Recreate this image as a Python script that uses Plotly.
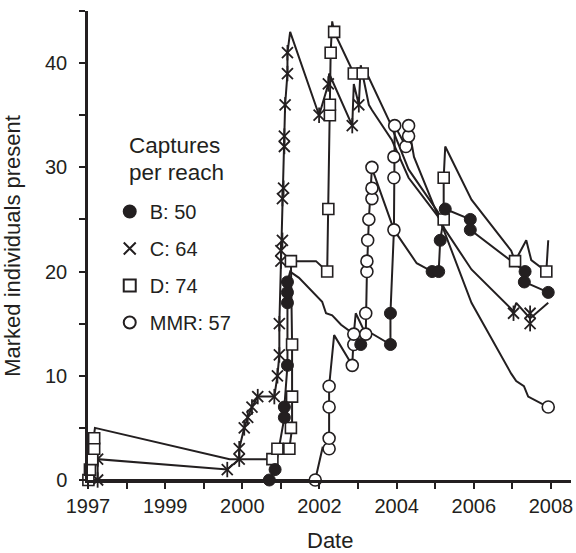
import plotly.graph_objects as go

INK = "#231f20"
FONT = "Liberation Sans, Arial, sans-serif"

# ---------------- data (decimal position on the date axis, count) ----------------
# Reach B (filled circles)
b_line_t = [1996.0, 2000.70, 2000.85, 2001.09, 2001.09, 2001.17, 2001.17, 2001.24, 2001.47, 2001.81,
            2002.07, 2002.17, 2002.33, 2002.56, 2002.85, 2003.07, 2003.20, 2003.84, 2003.84, 2003.93,
            2004.31, 2004.52, 2004.92, 2005.09, 2005.13, 2005.26, 2005.91, 2005.91, 2007.33, 2007.31, 2007.93]
b_line_y = [0, 0, 1, 6, 7, 11, 19, 20, 19.4, 18.1,
            17.1, 16, 15.8, 14.9, 14.1, 13, 14.4, 13, 16, 24,
            22, 20.8, 20, 20, 23, 26, 25, 24, 20, 19, 18]
b_cap_t = [2000.70, 2000.85, 2001.09, 2001.09, 2001.17, 2001.17, 2001.17, 2001.17, 2003.07, 2003.84,
           2003.84, 2004.92, 2005.09, 2005.13, 2005.26, 2005.91, 2005.91, 2007.33, 2007.31, 2007.93]
b_cap_y = [0, 1, 6, 7, 11, 17, 18, 19, 13, 13,
           16, 20, 20, 23, 26, 25, 24, 20, 19, 18]

# Reach C (asterisks)
c_line_t = [1996.25, 1996.25, 1999.61, 1999.92, 1999.92, 2000.05, 2000.14, 2000.25, 2000.40, 2000.83,
            2000.91, 2000.96, 2000.96, 2001.00, 2001.04, 2001.09, 2001.11, 2001.17, 2001.17, 2001.24,
            2001.99, 2002.23, 2002.25, 2002.85, 2002.89, 2003.02, 2003.07, 2003.28, 2003.36, 2003.88,
            2004.31, 2005.09, 2005.26, 2005.94, 2007.03, 2007.10, 2007.46, 2007.93]
c_line_y = [0, 2, 1, 2, 3, 5, 6, 7, 8, 8,
            10, 12, 15, 21, 27, 32, 36, 39, 41, 43,
            35, 38, 39, 34, 38, 36, 39.8, 36, 35.5, 32.6,
            29, 25.2, 24, 20.2, 16.2, 17, 15.5, 17]
c_cap_t = [1996.25, 1996.25, 1999.61, 1999.92, 1999.92, 2000.05, 2000.14, 2000.25, 2000.40, 2000.83,
           2000.91, 2000.96, 2000.96, 2001.00, 2001.00, 2001.04, 2001.04, 2001.07, 2001.09, 2001.09,
           2001.11, 2001.17, 2001.17, 2001.99, 2002.23, 2002.85, 2003.02, 2007.03, 2007.46, 2007.46]
c_cap_y = [0, 2, 1, 2, 3, 5, 6, 7, 8, 8,
           10, 12, 15, 21, 22, 23, 27, 28, 32, 33,
           36, 39, 41, 35, 38, 34, 36, 16, 16, 15]

# Reach D (open squares)
d_line_t = [1996.01, 1996.16, 1996.18, 1999.67, 2000.78, 2000.91, 2001.22, 2001.29, 2001.29, 2001.26,
            2001.91, 2002.20, 2002.23, 2002.29, 2002.33, 2002.38, 2002.89, 2003.12, 2003.23, 2003.80,
            2004.31, 2005.09, 2005.22, 2005.22, 2005.26, 2005.94, 2006.97, 2007.07, 2007.36, 2007.49,
            2007.88, 2007.93]
d_line_y = [0, 4, 5, 2, 2, 3, 3, 5, 13, 21,
            21, 20, 26, 41, 44, 43, 39, 39, 39, 34.5,
            29.8, 25.6, 25, 29, 32, 26.9, 22, 21, 23, 21.1,
            20, 23]
d_cap_t = [1996.01, 1996.05, 1996.11, 1996.16, 1996.16, 2000.78, 2000.91, 2001.22, 2001.26, 2001.29,
           2001.29, 2001.26, 2002.20, 2002.23, 2002.27, 2002.27, 2002.29, 2002.38, 2002.89, 2003.12,
           2005.22, 2005.22, 2007.07, 2007.88]
d_cap_y = [0, 1, 2, 3, 4, 2, 3, 3, 5, 8,
           13, 21, 20, 26, 35, 36, 41, 43, 39, 39,
           25, 29, 21, 20]

# Reach MMR (open circles)
m_line_t = [1996.0, 2001.89, 2002.08, 2002.25, 2002.25, 2002.38, 2002.85, 2002.89, 2002.94, 2003.20,
            2003.23, 2003.28, 2003.36, 2003.41, 2003.93, 2003.95, 2004.24, 2004.31, 2004.31, 2004.45,
            2005.22, 2005.94, 2006.97, 2007.10, 2007.30, 2007.41, 2007.93]
m_line_y = [0, 0, 3.1, 3, 9, 13.9, 11, 14, 16, 14,
            20, 25, 30, 29.4, 24, 34, 32, 33, 34, 31,
            24, 17, 10.2, 9.5, 9, 8, 7]
m_cap_t = [2001.89, 2002.25, 2002.25, 2002.25, 2002.25, 2002.85, 2002.89, 2002.89, 2003.20, 2003.20,
           2003.23, 2003.23, 2003.25, 2003.28, 2003.36, 2003.36, 2003.36, 2003.93, 2003.93, 2003.93,
           2003.95, 2004.24, 2004.31, 2004.31, 2007.93]
m_cap_y = [0, 3, 4, 7, 9, 11, 13, 14, 14, 16,
           20, 21, 23, 25, 27, 28, 30, 24, 29, 31,
           34, 32, 33, 34, 7]

legend_names = ["B: 50", "C: 64", "D: 74", "MMR: 57"]
tick_pos = [1996, 1998, 2000, 2002, 2004, 2006, 2008]
tick_labels = ["1997", "1999", "2000", "2002", "2004", "2006", "2008"]
minor_pos = [1997, 1999, 2001, 2003, 2005, 2007]
y_ticks = [0, 10, 20, 30, 40]
y_minor = [5, 15, 25, 35, 45]

# ---------------- figure ----------------
fig = go.Figure()
line_style = dict(color=INK, width=2)
for lt, ly in [(c_line_t, c_line_y), (d_line_t, d_line_y), (m_line_t, m_line_y), (b_line_t, b_line_y)]:
    fig.add_trace(go.Scatter(x=lt, y=ly, mode="lines", line=line_style,
                             showlegend=False, hoverinfo="skip", cliponaxis=False))

# C markers: X plus a vertical stroke
fig.add_trace(go.Scatter(x=c_cap_t, y=c_cap_y, mode="markers", name=legend_names[1],
                         legendgroup="C", legendrank=2, cliponaxis=False,
                         marker=dict(symbol="x-thin-open", size=11, color=INK,
                                     line=dict(color=INK, width=1.8))))
fig.add_trace(go.Scatter(x=c_cap_t, y=c_cap_y, mode="markers", showlegend=False, cliponaxis=False,
                         legendgroup="C",
                         marker=dict(symbol="line-ns-open", size=11, color=INK,
                                     line=dict(color=INK, width=1.8))))
fig.add_trace(go.Scatter(x=d_cap_t, y=d_cap_y, mode="markers", name=legend_names[2],
                         legendgroup="D", legendrank=3, cliponaxis=False,
                         marker=dict(symbol="square", size=11, color="white",
                                     line=dict(color=INK, width=1.6))))
fig.add_trace(go.Scatter(x=m_cap_t, y=m_cap_y, mode="markers", name=legend_names[3],
                         legendgroup="M", legendrank=4, cliponaxis=False,
                         marker=dict(symbol="circle", size=12, color="white",
                                     line=dict(color=INK, width=1.6))))
fig.add_trace(go.Scatter(x=b_cap_t, y=b_cap_y, mode="markers", name=legend_names[0],
                         legendgroup="B", legendrank=1, cliponaxis=False,
                         marker=dict(symbol="circle", size=12, color=INK,
                                     line=dict(color=INK, width=1))))

axis_common = dict(showline=True, linewidth=2.5, linecolor=INK, ticks="outside", ticklen=6,
                   tickwidth=2, tickcolor=INK, showgrid=False, zeroline=False,
                   tickfont=dict(size=20, color=INK, family=FONT))

fig.update_xaxes(range=[1996, 2008.52], tickmode="array", tickvals=tick_pos, ticktext=tick_labels,
                 minor=dict(tickmode="array", tickvals=minor_pos, ticks="outside", ticklen=6,
                            tickwidth=2, tickcolor=INK),
                 ticklabelstandoff=0, **axis_common)
fig.update_yaxes(range=[0, 45], tickmode="array", tickvals=y_ticks,
                 minor=dict(tickmode="array", tickvals=y_minor, ticks="outside", ticklen=6,
                            tickwidth=2, tickcolor=INK),
                 ticklabelstandoff=8, **axis_common)

fig.update_layout(
    width=576, height=553,
    margin=dict(l=88, r=3, t=11, b=73),
    plot_bgcolor="white", paper_bgcolor="white",
    font=dict(family=FONT, color=INK, size=20),
    legend=dict(x=0.045, y=0.614, xanchor="left", yanchor="top", bgcolor="rgba(0,0,0,0)",
                font=dict(size=20, color=INK, family=FONT), traceorder="grouped",
                itemsizing="constant", tracegroupgap=8),
    annotations=[
        dict(text="Captures", xref="paper", yref="paper", x=0.080, y=(480 - 145) / 469,
             xanchor="left", yanchor="middle", showarrow=False, font=dict(size=22.5)),
        dict(text="per reach", xref="paper", yref="paper", x=0.080, y=(480 - 172) / 469,
             xanchor="left", yanchor="middle", showarrow=False, font=dict(size=22.5)),
        dict(text="Date", xref="paper", yref="paper", x=0.5, y=(480 - 540) / 469,
             xanchor="center", yanchor="middle", showarrow=False, font=dict(size=22)),
        dict(text="Marked individuals present", xref="paper", yref="paper",
             x=(12 - 88) / 485, y=0.5, xanchor="center", yanchor="middle", textangle=-90,
             showarrow=False, font=dict(size=22)),
    ],
)

# remove the default page margin so the 576x553 figure fills the window exactly
fig.write_html("out.html", config={"displayModeBar": False},
               post_script="document.body.style.margin='0';")
